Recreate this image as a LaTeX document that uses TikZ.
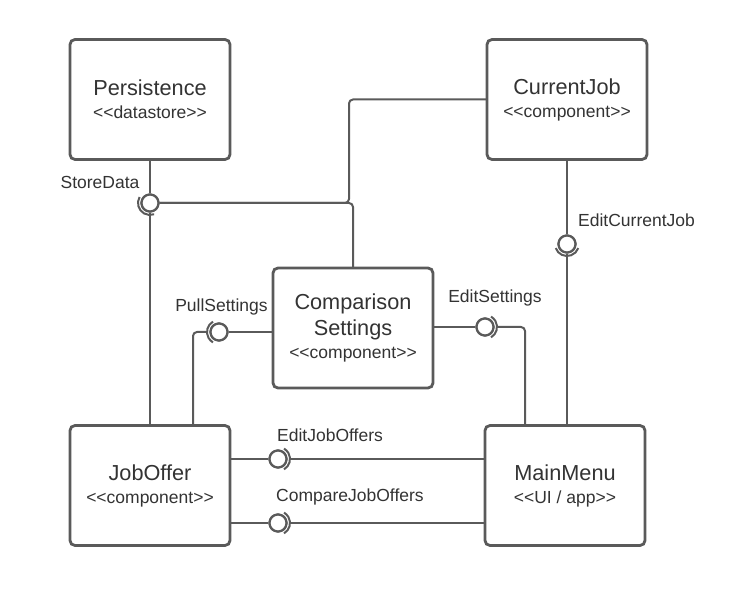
\documentclass[tikz,border=0pt]{standalone}
\usepackage{fontspec}
\usetikzlibrary{positioning}
\newfontfamily\lucid{Liberation Sans}
\definecolor{edge}{RGB}{90,90,90}
\definecolor{ink}{RGB}{51,51,51}
\newcommand{\stereo}[1]{{\fontsize{17.5}{21}\selectfont #1}}

\begin{document}
\begin{tikzpicture}[x=1pt, y=-1pt,
    comp/.style={draw=edge, line width=2.8pt, rounded corners=5pt, fill=white, text=ink,
      align=center, minimum width=160pt, minimum height=120pt, inner sep=0pt, outer sep=0pt,
      font=\lucid\fontsize{21.7}{26}\selectfont},
    ball/.style={circle, draw=edge, line width=2.2pt, fill=white, minimum size=17pt, inner sep=0pt},
    wire/.style={draw=edge, line width=2pt, rounded corners=4pt},
    lbl/.style={text=ink, inner sep=0pt, font=\lucid\fontsize{17.5}{21}\selectfont}]
        \useasboundingbox (0,0) rectangle (737,596);
        \node[comp] (persist) at (150,99.5) {Persistence\\[-3pt]\stereo{<<datastore>>}};
        \node[comp, right=257pt of persist] (curjob) {CurrentJob\\[-3pt]\stereo{<<component>>}};
        \node[comp, below=266pt of persist] (joboffer) {JobOffer\\[-3pt]\stereo{<<component>>}};
        \node[comp, right=255pt of joboffer] (mainmenu) {MainMenu\\[-3pt]\stereo{<<UI / app>>}};
        \node[comp] (settings) at (353,328) {Comparison\\Settings\\[-3pt]\stereo{<<component>>}};

        \node[ball] (store) at (150,203) {};
        \node[ball] (editcj) at (567,244) {};
        \node[ball] (pull) at (219,332) {};
        \node[ball] (editset) at (485,327) {};
        \node[ball] (editjo) at (278,459) {};
        \node[ball] (cmpjo) at (278,523) {};

        % wires
        \draw[wire] (persist.south -| store) -- (store);
        \draw[wire] (store) -- (joboffer.north -| store);
        \draw[wire] (curjob.west) -| ([xshift=199pt]store.center) -- (store);
        \draw[wire] (settings.north) |- (store);
        \draw[wire] (curjob.south -| editcj) -- (editcj) -- (mainmenu.north -| editcj);
        \draw[wire] (settings.west |- pull) -- (pull);
        \draw[wire] ([xshift=-12pt]pull.center) -| ([xshift=43pt]joboffer.north);
        \draw[wire] (settings.east |- editset) -- (editset);
        \draw[wire] ([xshift=12pt]editset.center) -| ([xshift=-40pt]mainmenu.north);
        \draw[wire] (joboffer.east |- editjo) -- (editjo);
        \draw[wire] ([xshift=12pt]editjo.center) -- (mainmenu.west |- editjo);
        \draw[wire] (joboffer.east |- cmpjo) -- (cmpjo);
        \draw[wire] ([xshift=12pt]cmpjo.center) -- (mainmenu.west |- cmpjo);

        % balls over wires, then sockets
        \foreach \b in {store, editcj, pull, editset, editjo, cmpjo}
            \node[ball] at (\b) {};
        \draw[wire] (store.center) ++(150:12pt) arc[start angle=150, end angle=290, radius=12pt];
        \draw[wire] (editcj.center) ++(200:12pt) arc[start angle=200, end angle=340, radius=12pt];
        \draw[wire] (pull.center) ++(120:12pt) arc[start angle=120, end angle=240, radius=12pt];
        \draw[wire] (editset.center) ++(-60:12pt) arc[start angle=-60, end angle=60, radius=12pt];
        \draw[wire] (editjo.center) ++(-60:12pt) arc[start angle=-60, end angle=60, radius=12pt];
        \draw[wire] (cmpjo.center) ++(-60:12pt) arc[start angle=-60, end angle=60, radius=12pt];

        % labels
        \node[lbl] (storelbl) at (100,182) {StoreData};
        \node[lbl, anchor=west] (editcjlbl) at (578,220) {EditCurrentJob};
        \node[lbl] (pulllbl) at (221.5,306.5) {PullSettings};
        \node[lbl] (editsetlbl) at (495,298) {EditSettings};
        \node[lbl, anchor=west] (editjolbl) at (277,435) {EditJobOffers};
        \node[lbl, anchor=west] (cmpjolbl) at (276,497) {CompareJobOffers};
\end{tikzpicture}
\end{document}
